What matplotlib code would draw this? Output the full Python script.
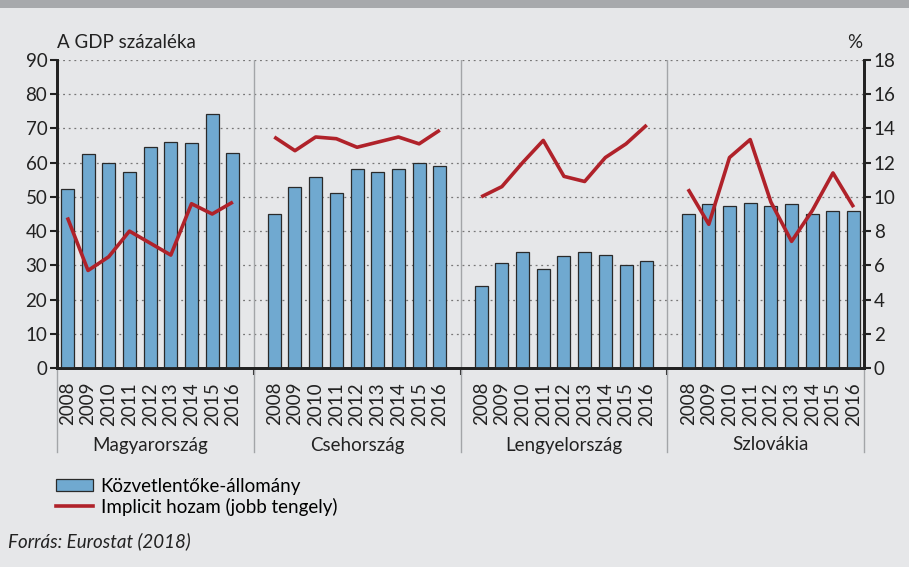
import numpy as np
import matplotlib
matplotlib.use("Agg")
import matplotlib.pyplot as plt
from matplotlib.patches import Patch, Rectangle
from matplotlib.lines import Line2D
import matplotlib.transforms as mtransforms

plt.rcParams['font.family'] = ['Lato', 'DejaVu Sans']

# adatok
countries = ['Magyarország', 'Csehország', 'Lengyelország', 'Szlovákia']
years = ['2008', '2009', '2010', '2011', '2012', '2013', '2014', '2015', '2016']

# Közvetlentőke-állomány (A GDP százaléka)
fdi_hu = [52.4, 62.4, 60.0, 57.2, 64.7, 66.1, 65.7, 74.2, 62.8]
fdi_cz = [44.9, 52.9, 55.7, 51.0, 58.1, 57.2, 58.1, 60.0, 59.0]
fdi_pl = [24.0, 30.6, 34.0, 28.8, 32.6, 34.0, 33.0, 30.2, 31.2]
fdi_sk = [45.0, 47.8, 47.3, 48.2, 47.3, 47.8, 45.0, 45.8, 45.8]

# Implicit hozam (%, jobb tengely)
yield_hu = [8.8, 5.7, 6.5, 8.0, 7.3, 6.6, 9.6, 9.0, 9.7]
yield_cz = [13.5, 12.7, 13.5, 13.4, 12.9, 13.2, 13.5, 13.1, 13.9]
yield_pl = [10.0, 10.6, 12.0, 13.3, 11.2, 10.9, 12.3, 13.1, 14.2]
yield_sk = [10.45, 8.4, 12.3, 13.35, 9.7, 7.4, 9.2, 11.4, 9.4]

fdi = [fdi_hu, fdi_cz, fdi_pl, fdi_sk]
yields = [yield_hu, yield_cz, yield_pl, yield_sk]

bg = '#e6e7e9'
bar_color = '#70a9d0'
line_color = '#b0222a'
sep_color = '#a3a5a8'
fs = 13.5

fig = plt.figure(figsize=(9.09, 5.67), dpi=100, facecolor=bg)
# felső sáv
fig.patches.append(Rectangle((0, 1 - 8 / 567), 1, 8 / 567, transform=fig.transFigure,
                             facecolor='#a7a9ac', edgecolor='none'))

ax = fig.add_axes([57 / 909, 1 - 368 / 567, (864 - 57) / 909, (368 - 60) / 567])
ax.set_facecolor(bg)
ax2 = ax.twinx()

n = len(years)
slot = n + 1  # egy üres hely a csoportok között
positions = []
for k in range(len(countries)):
    x = np.arange(n) + k * slot
    positions.extend(x)
    ax.bar(x, fdi[k], width=0.63, color=bar_color, edgecolor='#2a2a2a', linewidth=0.9, zorder=3)
    ax2.plot(x, yields[k], color=line_color, linewidth=2.6, solid_capstyle='butt', zorder=4)

ax.set_xlim(-0.5, len(countries) * slot - 1.5)
ax.set_ylim(0, 90)
ax2.set_ylim(0, 18)
ax.set_yticks(np.arange(0, 91, 10))
ax2.set_yticks(np.arange(0, 19, 2))

ax.grid(axis='y', linestyle=(0, (1.5, 3)), color='#777777', linewidth=0.9, zorder=0)
ax.set_axisbelow(True)

# csoportelválasztók
seps = [k * slot - 1 for k in range(1, len(countries))]
trans = mtransforms.blended_transform_factory(ax.transData, ax.transAxes)
for s in seps:
    ax.axvline(s, color=sep_color, linewidth=1.0, zorder=1)
for s in [-0.5] + seps + [len(countries) * slot - 1.5]:
    ax.add_line(Line2D([s, s], [0, -0.273], transform=trans, color=sep_color,
                       linewidth=1.0, clip_on=False))

ax.set_xticks(positions)
ax.set_xticklabels(years * len(countries), rotation=90, fontsize=fs, color='#222222')
ax.tick_params(axis='x', length=0, pad=10)
ax.set_xticks(seps, minor=True)
ax.tick_params(axis='x', which='minor', length=5, width=1.5, color='#222222')

ax.tick_params(axis='y', labelsize=fs, length=5, width=1.5, colors='#222222', pad=2)
ax2.tick_params(axis='y', labelsize=fs, length=5, width=1.5, colors='#222222', pad=2)

for a in (ax, ax2):
    a.spines['top'].set_visible(False)
    a.spines['left'].set_linewidth(2)
    a.spines['right'].set_linewidth(2)
    a.spines['bottom'].set_linewidth(2)
    a.spines['left'].set_color('#222222')
    a.spines['right'].set_color('#222222')
    a.spines['bottom'].set_color('#222222')

for k, name in enumerate(countries):
    cx = k * slot + (n - 1) / 2
    ax.text(cx, -0.25, name, transform=trans, ha='center', va='center', fontsize=fs, color='#222222')

fig.text(57 / 909, 1 - 42 / 567, 'A GDP százaléka', ha='left', va='center', fontsize=fs, color='#222222')
fig.text(855 / 909, 1 - 42 / 567, '%', ha='center', va='center', fontsize=fs, color='#222222')

handles = [Patch(facecolor=bar_color, edgecolor='#2a2a2a', linewidth=0.9),
           Line2D([0], [0], color=line_color, linewidth=2.6)]
labels = ['Közvetlentőke-állomány', 'Implicit hozam (jobb tengely)']
fig.legend(handles, labels, loc='upper left', bbox_to_anchor=(50 / 909, 1 - 472 / 567),
           frameon=False, fontsize=fs, handlelength=2.0, handleheight=0.6,
           handletextpad=0.4, labelspacing=0.15, borderaxespad=0, borderpad=0.3)

fig.text(8 / 909, 1 - 541 / 567, 'Forrás: Eurostat (2018)', ha='left', va='center',
         fontsize=fs, style='italic', color='#222222')

fig.savefig('out.png', dpi=100, facecolor=bg)
